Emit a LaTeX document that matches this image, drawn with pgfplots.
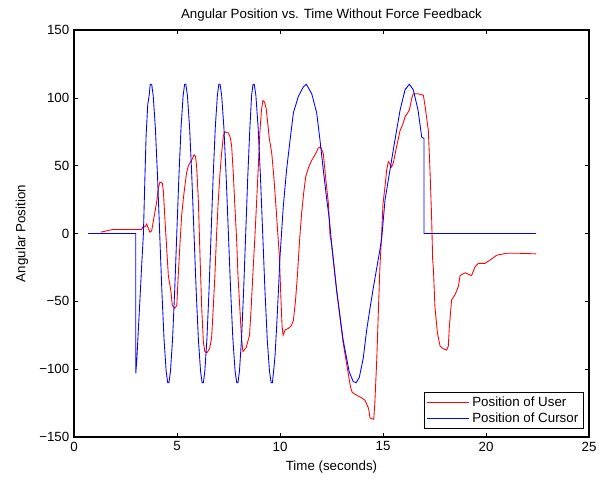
\documentclass[border=0pt]{standalone}
\usepackage{fontspec}
\setmainfont{Liberation Sans}
\usepackage{pgfplots}
\pgfplotsset{compat=1.18}

\begin{document}
\begin{tikzpicture}
\useasboundingbox (-55.5pt,-34.5pt) rectangle (402pt,327.75pt);
\begin{axis}[
    scale only axis,
    width=386.25pt, height=305.25pt,
    xmin=0, xmax=25, ymin=-150, ymax=150,
    xtick={0,5,...,25},
    ytick={-150,-100,...,150},
    yticklabels={−150,−100,−50,0,50,100,150},
    tick align=inside,
    major tick length=3pt,
    axis line style={line width=0.8pt},
    every tick/.style={black, line width=0.5pt},
    /pgf/number format/assume math mode=true,
    ticklabel style={font=\fontsize{10}{12}\selectfont},
    label style={font=\fontsize{10}{12}\selectfont},
    title style={font=\fontsize{10}{12}\selectfont, at={(0.5,1)}, anchor=base, yshift=3pt},
    title={Angular Position vs. Time Without Force Feedback},
    xlabel={Time (seconds)},
    ylabel={Angular Position},
    xlabel style={at={(axis description cs:0.5,-0.074)}, anchor=center},
    ylabel style={at={(axis description cs:-0.101,0.5)}, anchor=center},
    legend style={at={(0.989,0.019)}, anchor=south east, draw=black, line width=0.6pt,
        font=\fontsize{10}{12}\selectfont, inner sep=1.5pt, row sep=-1pt},
    legend cell align=left,
    legend image code/.code={\draw[#1, line width=0.6pt] (0pt,0pt) -- (32pt,0pt);},
]
% position of user
\addplot[red, line width=0.65pt] coordinates {
(1.3,1) (1.6,2) (1.9,3) (3.28,3) (3.35,5) (3.45,5) (3.53,7) (3.6,4) (3.69,1) (3.77,2)
(3.85,9) (3.93,16) (4.01,23) (4.09,33) (4.17,38) (4.29,37) (4.34,31) (4.42,9) (4.5,-11)
(4.58,-31) (4.71,-43) (4.77,-53) (4.9,-55) (4.99,-53) (5.06,-31) (5.15,-6) (5.23,14)
(5.31,26) (5.39,36) (5.47,45) (5.55,50) (5.71,54) (5.83,58) (5.9,57) (5.96,48) (6.04,23)
(6.12,-18) (6.2,-55) (6.28,-80) (6.35,-87) (6.45,-88) (6.58,-85) (6.68,-77) (6.76,-55)
(6.84,-31) (6.92,-1) (7.0,23) (7.09,45) (7.17,60) (7.25,72) (7.33,75) (7.5,74) (7.58,71)
(7.65,65) (7.73,45) (7.8,23) (7.9,-6) (7.96,-31) (8.05,-55) (8.13,-77) (8.2,-87)
(8.36,-84) (8.52,-75) (8.6,-55) (8.68,-31) (8.78,-3) (8.87,25) (8.95,50) (9.02,74)
(9.1,91) (9.17,98) (9.25,97) (9.33,92) (9.4,82) (9.48,70) (9.6,59) (9.7,42) (9.84,12)
(9.97,-17) (10.05,-50) (10.1,-68) (10.15,-75) (10.25,-71) (10.4,-70) (10.55,-68)
(10.65,-64) (10.75,-50) (10.85,-30) (10.95,-5) (11.05,15) (11.15,30) (11.25,42)
(11.37,48) (11.54,54) (11.7,58) (11.86,63) (11.97,64) (12.1,59) (12.23,39) (12.35,22)
(12.43,-2) (12.5,-7) (12.75,-42) (13.06,-80) (13.3,-102) (13.42,-113) (13.5,-117)
(13.7,-119) (13.95,-121) (14.13,-123) (14.3,-129) (14.37,-136) (14.55,-137) (14.6,-126)
(14.7,-92) (14.78,-55) (14.85,-25) (14.92,-5) (15.0,22) (15.1,35) (15.18,47) (15.26,53)
(15.35,51) (15.42,49) (15.5,52) (15.58,58) (15.66,64) (15.83,76) (15.95,80) (16.07,86)
(16.2,89) (16.28,91) (16.4,100) (16.47,103) (16.7,103) (16.96,102) (17.05,93) (17.2,76)
(17.28,47) (17.36,12) (17.41,-19) (17.45,-27) (17.52,-54) (17.64,-73) (17.77,-83)
(17.93,-85) (18.09,-86) (18.17,-83) (18.22,-69) (18.33,-49) (18.5,-45) (18.66,-39)
(18.74,-31) (18.98,-29) (19.3,-31) (19.47,-24.5) (19.63,-22) (19.95,-22) (20.2,-19.5)
(20.52,-16) (21.0,-14.6) (21.65,-14.6) (22.43,-15)
};
% position of cursor
\addplot[blue, line width=0.65pt] coordinates {
(0.68,0) (3.0,0) (3.0,-103) (3.05,-93) (3.12,-72) (3.2,-49) (3.28,-25) (3.37,0) (3.44,40)
(3.5,72) (3.58,95) (3.65,102) (3.7,110) (3.77,110) (3.845,101.6) (3.95,77.8) (4.055,42.1)
(4.16,0) (4.265,-42.1) (4.37,-77.8) (4.475,-101.6) (4.55,-110) (4.61,-110) (4.6825,-101.6)
(4.785,-77.8) (4.8875,-42.1) (4.99,0) (5.0925,42.1) (5.195,77.8) (5.2975,101.6) (5.37,110)
(5.43,110) (5.506,101.6) (5.6125,77.8) (5.719,42.1) (5.825,0) (5.931,-42.1) (6.0375,-77.8)
(6.144,-101.6) (6.22,-110) (6.28,-110) (6.351,-101.6) (6.4525,-77.8) (6.554,-42.1) (6.655,0)
(6.756,42.1) (6.8575,77.8) (6.959,101.6) (7.03,110) (7.09,110) (7.169,101.6) (7.2775,77.8)
(7.386,42.1) (7.495,0) (7.604,-42.1) (7.7125,-77.8) (7.821,-101.6) (7.90,-110) (7.96,-110)
(8.031,-101.6) (8.1325,-77.8) (8.234,-42.1) (8.335,0) (8.436,42.1) (8.5375,77.8)
(8.62,101.6) (8.69,110) (8.75,110) (8.83,101.6) (8.94,77.8) (9.05,42.1) (9.16,0)
(9.27,-42.1) (9.38,-77.8) (9.49,-101.6) (9.57,-110) (9.63,-110) (9.7,-100) (9.76,-90)
(9.85,-65) (9.93,-40) (10.0,-17) (10.16,20) (10.32,47) (10.49,69) (10.65,89) (10.89,101)
(11.13,108) (11.28,110) (11.54,103) (11.78,89) (11.94,69) (12.1,47) (12.27,25) (12.4,10)
(12.5,-7) (12.75,-42) (13.06,-78) (13.36,-102) (13.55,-109) (13.7,-110) (13.85,-106)
(14.04,-92) (14.2,-72) (14.37,-55) (14.53,-40) (14.7,-25) (14.85,-12) (14.94,-3) (15.1,25)
(15.34,47) (15.58,69) (15.83,91) (16.07,106) (16.28,110) (16.47,106) (16.7,91) (16.88,71)
(16.99,70) (16.99,0) (22.43,0)
};
\legend{Position of User, Position of Cursor}
\end{axis}
\end{tikzpicture}
\end{document}
